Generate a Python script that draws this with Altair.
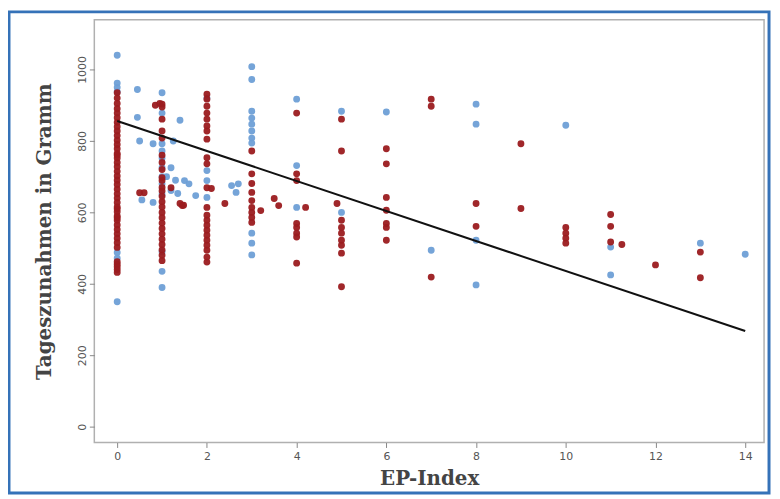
import altair as alt
import pandas as pd

# ---- data ----
blue_x = [0, 0, 0, 0, 0, 0, 0,
          0.45, 0.45, 0.5, 0.55, 0.8, 0.8,
          1, 1, 1, 1, 1, 1, 1, 1, 1, 1, 1, 1,
          1.1, 1.2, 1.2, 1.25, 1.3, 1.35, 1.4, 1.5, 1.6, 1.75,
          2, 2, 2, 2,
          2.55, 2.65, 2.7,
          3, 3, 3, 3, 3, 3, 3, 3, 3, 3, 3,
          4, 4, 4,
          5, 5,
          6,
          7,
          8, 8, 8, 8,
          10,
          11, 11,
          13,
          14]
blue_y = [1040, 962, 950, 938, 488, 472, 350,
          944, 866, 800, 635, 792, 628,
          935, 878, 792, 772, 752, 725, 700, 680, 650, 490, 435, 390,
          700, 725, 661, 800, 690, 653, 858, 689, 680, 647,
          920, 717, 689, 642,
          675, 656, 680,
          1008, 972, 883, 864, 847, 828, 808, 794, 542, 514, 481,
          917, 731, 614,
          883, 600,
          881,
          494,
          903, 847, 522, 397,
          844,
          503, 425,
          514,
          483]

red_x = ([0] * 43 +
         [0.5, 0.6, 0.85, 0.95] +
         [1] * 25 +
         [1.2, 1.4, 1.45, 1.48] +
         [2] * 22 +
         [2.1, 2.4] +
         [3] * 9 +
         [3.2, 3.5, 3.6] +
         [4] * 8 + [4.2, 4.9] +
         [5] * 9 +
         [6] * 7 +
         [7] * 3 +
         [8] * 2 +
         [9] * 2 +
         [10] * 4 +
         [11] * 3 + [11.25] +
         [12] +
         [13] * 2)
red_y = ([935, 920, 905, 890, 878, 865, 852, 840, 828, 815, 802, 790, 778, 765,
          752, 740, 728, 715, 702, 690, 678, 665, 652, 640, 628, 615, 602, 590,
          578, 565, 552, 540, 528, 515, 502, 462, 455, 448, 440, 432, 585, 610, 760] +
         [655, 655, 900, 905] +
         [903, 895, 861, 828, 808, 760, 740, 720, 697, 689, 670, 660, 645, 630,
          615, 600, 585, 570, 555, 540, 525, 510, 495, 480, 465] +
         [669, 625, 619, 620] +
         [931, 917, 897, 878, 861, 842, 828, 805, 753, 736, 669, 614, 592, 578,
          564, 550, 536, 522, 508, 494, 475, 461] +
         [667, 625] +
         [772, 708, 681, 656, 633, 614, 600, 586, 572] +
         [605, 639, 619] +
         [878, 708, 689, 569, 558, 542, 531, 458, 614, 625] +
         [861, 772, 578, 558, 542, 522, 508, 486, 392] +
         [778, 736, 642, 606, 569, 558, 522] +
         [917, 897, 419] +
         [625, 561] +
         [792, 611] +
         [558, 542, 528, 514] +
         [594, 561, 517, 510] +
         [453] +
         [489, 417])

line_x = [0, 14]
line_y = [856, 268]

BLUE = "#6e9fd6"
RED = "#9b1b1f"

blue_df = pd.DataFrame({"x": blue_x, "y": blue_y})
red_df = pd.DataFrame({"x": red_x, "y": red_y})
line_df = pd.DataFrame({"x": line_x, "y": line_y})

xscale = alt.Scale(domain=[-0.51, 14.42], nice=False, zero=False)
yscale = alt.Scale(domain=[-44, 1139], nice=False, zero=False)

xenc = alt.X("x:Q", scale=xscale,
             axis=alt.Axis(title="EP-Index", values=list(range(0, 15, 2)),
                           grid=False, labelPadding=3, titlePadding=7))
yenc = alt.Y("y:Q", scale=yscale,
             axis=alt.Axis(title="Tageszunahmen in Gramm",
                           values=[0, 200, 400, 600, 800, 1000], format="d",
                           grid=False, labelAngle=270, labelAlign="center",
                           labelBaseline="bottom", labelPadding=2,
                           titlePadding=22))

border = alt.Chart(alt.Data(values=[{"a": 1}])).mark_rect(
    filled=False, stroke="#3572b8", strokeWidth=3
).encode(x=alt.value(-86), x2=alt.value(680), y=alt.value(-8), y2=alt.value(477))

blue_pts = alt.Chart(blue_df).mark_circle(size=48, opacity=0.95, color=BLUE).encode(x=xenc, y=yenc)
red_pts = alt.Chart(red_df).mark_circle(size=48, opacity=0.95, color=RED).encode(x="x:Q", y="y:Q")
line = alt.Chart(line_df).mark_line(color="#111111", strokeWidth=2).encode(x="x:Q", y="y:Q")

chart = alt.layer(border, blue_pts, red_pts, line).properties(
    width=675, height=426,
    autosize=alt.AutoSizeParams(type="none"),
    padding={"left": 87, "top": 10, "right": 8, "bottom": 52},
    background="white",
).configure_view(
    stroke="#b0b0b0", strokeWidth=1.5
).configure_axis(
    domain=False,
    tickColor="#888888", tickSize=5,
    labelFont="DejaVu Sans", labelFontSize=11, labelColor="#555555",
    titleFont="DejaVu Serif", titleFontSize=20, titleFontWeight="bold",
    titleColor="#444444",
)

chart.save("out.html", embed_options={"renderer": "svg", "actions": False})
